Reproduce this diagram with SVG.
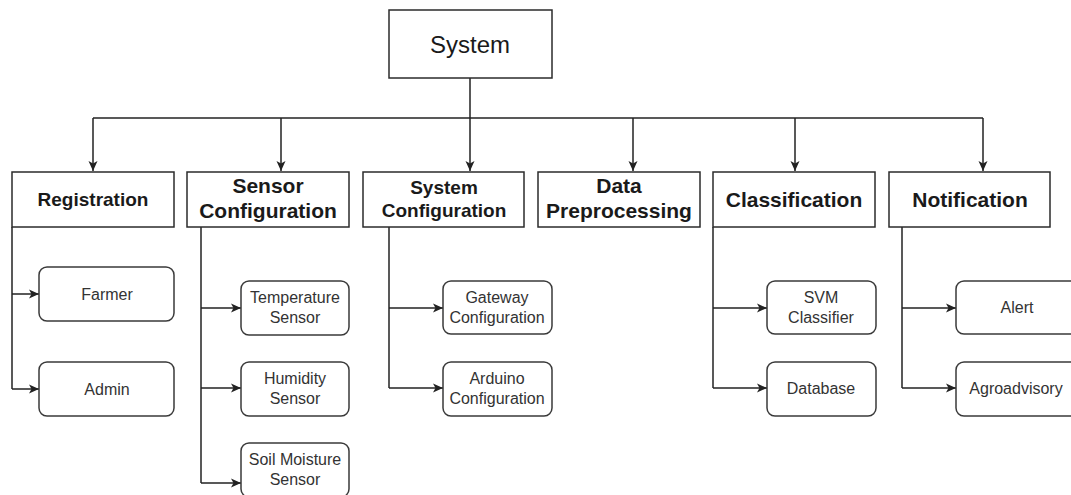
<svg xmlns="http://www.w3.org/2000/svg" width="1071" height="495" viewBox="0 0 1071 495">
<style>
.box{fill:#fff;stroke:#2b2b2b;stroke-width:1.5}
.child{fill:#fff;stroke:#3a3a3a;stroke-width:1.5}
.hd{font-family:"Liberation Sans",Arial,sans-serif;font-weight:bold;fill:#1a1a1a;text-anchor:middle}
.ct{font-family:"Liberation Sans",Arial,sans-serif;font-size:16px;fill:#333;text-anchor:middle}
.ln{fill:none;stroke:#222;stroke-width:1.5}
</style>
<defs>
<marker id="ah" viewBox="0 0 10 10" refX="10" refY="5" markerWidth="10" markerHeight="10" markerUnits="userSpaceOnUse" orient="auto">
<path d="M0,0.5 L10,5 L0,9.5 L2.5,5 Z" fill="#222"/>
</marker>
</defs>
<rect width="1071" height="495" fill="#fff"/>
<g id="connectors">
<path class="ln" d="M470,78 V171" marker-end="url(#ah)"/>
<path class="ln" d="M93,118 H983"/>
<path class="ln" d="M93,118 V171" marker-end="url(#ah)"/>
<path class="ln" d="M281,118 V171" marker-end="url(#ah)"/>
<path class="ln" d="M633,118 V171" marker-end="url(#ah)"/>
<path class="ln" d="M795,118 V171" marker-end="url(#ah)"/>
<path class="ln" d="M983,118 V171" marker-end="url(#ah)"/>
<path class="ln" d="M12,227 V389"/>
<path class="ln" d="M12,294 H39" marker-end="url(#ah)"/>
<path class="ln" d="M12,389 H39" marker-end="url(#ah)"/>
<path class="ln" d="M201,227 V483"/>
<path class="ln" d="M201,308 H241" marker-end="url(#ah)"/>
<path class="ln" d="M201,388 H241" marker-end="url(#ah)"/>
<path class="ln" d="M201,483 H241" marker-end="url(#ah)"/>
<path class="ln" d="M389,227 V388"/>
<path class="ln" d="M389,308 H443" marker-end="url(#ah)"/>
<path class="ln" d="M389,388 H443" marker-end="url(#ah)"/>
<path class="ln" d="M713,227 V388"/>
<path class="ln" d="M713,308 H767" marker-end="url(#ah)"/>
<path class="ln" d="M713,388 H767" marker-end="url(#ah)"/>
<path class="ln" d="M902,227 V388"/>
<path class="ln" d="M902,308 H956" marker-end="url(#ah)"/>
<path class="ln" d="M902,388 H956" marker-end="url(#ah)"/>
</g>
<g id="system">
<rect class="box" x="389" y="10" width="163" height="68"/>
<text x="470" y="53" font-family="Liberation Sans,Arial,sans-serif" font-size="24" fill="#1a1a1a" text-anchor="middle">System</text>
</g>
<g id="registration">
<rect class="box" x="12" y="172" width="162" height="55"/>
<text class="hd" x="93" y="206" font-size="19">Registration</text>
</g>
<g id="sensor-configuration">
<rect class="box" x="187" y="172" width="162" height="55"/>
<text class="hd" x="268" y="193" font-size="21">Sensor</text>
<text class="hd" x="268" y="218" font-size="21">Configuration</text>
</g>
<g id="system-configuration">
<rect class="box" x="363" y="172" width="161" height="55"/>
<text class="hd" x="444" y="194" font-size="19">System</text>
<text class="hd" x="444" y="217" font-size="19">Configuration</text>
</g>
<g id="data-preprocessing">
<rect class="box" x="538" y="172" width="162" height="55"/>
<text class="hd" x="619" y="193" font-size="21">Data</text>
<text class="hd" x="619" y="218" font-size="21">Preprocessing</text>
</g>
<g id="classification">
<rect class="box" x="713" y="172" width="162" height="55"/>
<text class="hd" x="794" y="207" font-size="21">Classification</text>
</g>
<g id="notification">
<rect class="box" x="889" y="172" width="161" height="55"/>
<text class="hd" x="970" y="207" font-size="21">Notification</text>
</g>
<g id="farmer">
<rect class="child" x="39" y="267" width="135" height="54" rx="8"/>
<text class="ct" x="107" y="300">Farmer</text>
</g>
<g id="admin">
<rect class="child" x="39" y="362" width="135" height="54" rx="8"/>
<text class="ct" x="107" y="395">Admin</text>
</g>
<g id="temperature-sensor">
<rect class="child" x="241" y="281" width="108" height="54" rx="8"/>
<text class="ct" x="295" y="303">Temperature</text>
<text class="ct" x="295" y="323">Sensor</text>
</g>
<g id="humidity-sensor">
<rect class="child" x="241" y="362" width="108" height="54" rx="8"/>
<text class="ct" x="295" y="384">Humidity</text>
<text class="ct" x="295" y="404">Sensor</text>
</g>
<g id="soil-moisture-sensor">
<rect class="child" x="241" y="443" width="108" height="54" rx="8"/>
<text class="ct" x="295" y="465">Soil Moisture</text>
<text class="ct" x="295" y="485">Sensor</text>
</g>
<g id="gateway-configuration">
<rect class="child" x="443" y="281" width="109" height="53" rx="8"/>
<text class="ct" x="497" y="303">Gateway</text>
<text class="ct" x="497" y="323">Configuration</text>
</g>
<g id="arduino-configuration">
<rect class="child" x="443" y="362" width="109" height="54" rx="8"/>
<text class="ct" x="497" y="384">Arduino</text>
<text class="ct" x="497" y="404">Configuration</text>
</g>
<g id="svm-classifier">
<rect class="child" x="767" y="281" width="109" height="53" rx="8"/>
<text class="ct" x="821" y="303">SVM</text>
<text class="ct" x="821" y="323">Classifier</text>
</g>
<g id="database">
<rect class="child" x="767" y="362" width="109" height="54" rx="8"/>
<text class="ct" x="821" y="394">Database</text>
</g>
<g id="alert">
<rect class="child" x="956" y="281" width="122" height="53" rx="8"/>
<text class="ct" x="1017" y="313">Alert</text>
</g>
<g id="agroadvisory">
<rect class="child" x="956" y="362" width="122" height="54" rx="8"/>
<text class="ct" x="1016" y="394">Agroadvisory</text>
</g>
</svg>
